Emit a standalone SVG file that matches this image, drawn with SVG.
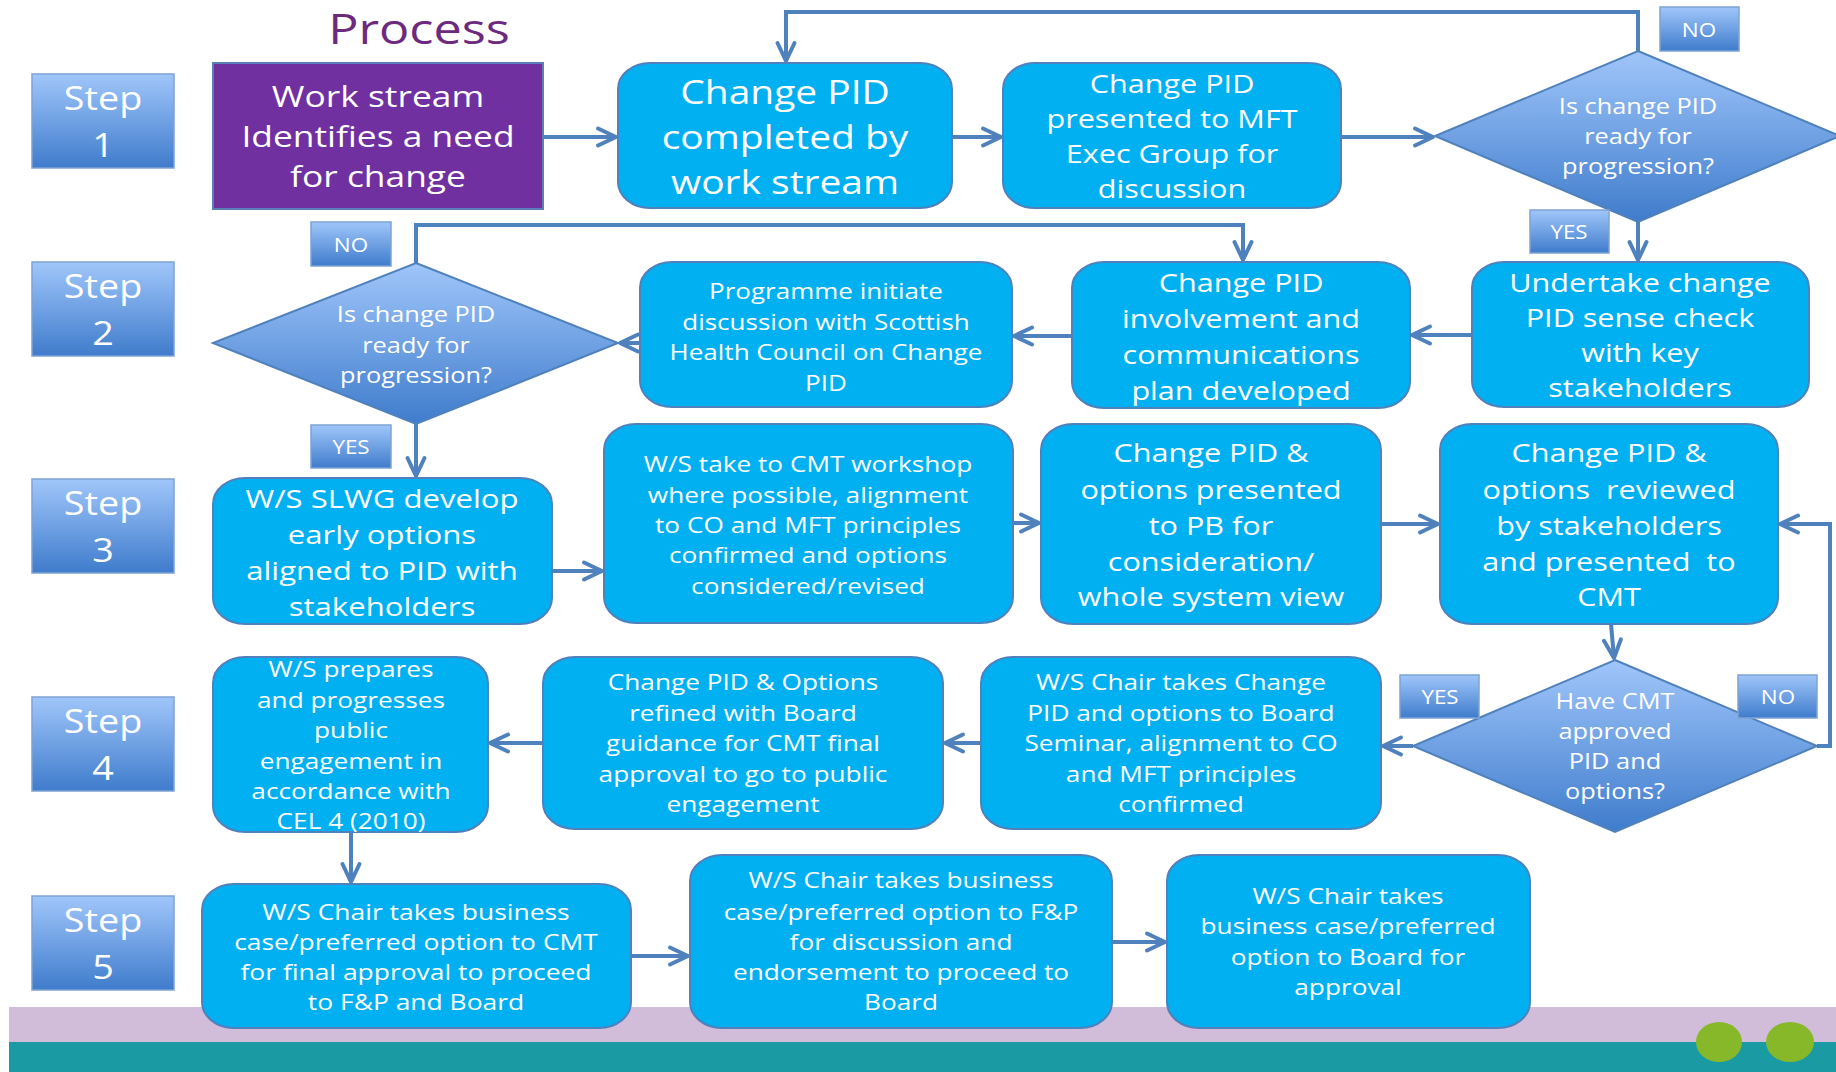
<svg xmlns="http://www.w3.org/2000/svg" width="1836" height="1072" viewBox="0 0 1836 1072">
  <defs>
    <linearGradient id="blueGrad" x1="0" y1="0" x2="0" y2="1">
      <stop offset="0" stop-color="#a0c6fa"/>
      <stop offset="1" stop-color="#3f7ccc"/>
    </linearGradient>
    <marker id="chev" viewBox="-2 -2 26 24" refX="20" refY="10" markerWidth="26" markerHeight="24" markerUnits="userSpaceOnUse" orient="auto">
      <path d="M2,1.5 L20,10 L2,18.5" fill="none" stroke="#4f81bd" stroke-width="4" stroke-linecap="round" stroke-linejoin="round"/>
    </marker>
    <style>
      .box { fill: #00b0f0; stroke: #4f81bd; stroke-width: 2; }
      .step { fill: url(#blueGrad); stroke: #7fa3d3; stroke-width: 1.5; }
      .dia { fill: url(#blueGrad); stroke: #4f81bd; stroke-width: 2; }
      .lbl { fill: url(#blueGrad); stroke: #7fa3d3; stroke-width: 1.5; }
      .conn path { fill: none; stroke: #4f81bd; stroke-width: 4; marker-end: url(#chev); }
      text { font-family: "Open Sans", "Liberation Sans", sans-serif; fill: #ffffff; text-anchor: middle; }
      .s33 { font-size: 33px; }
      .s29 { font-size: 29px; }
      .s26 { font-size: 25.5px; }
      .s22 { font-size: 21.5px; }
      .s21 { font-size: 20px; }
      .s32 { font-size: 32px; }
    </style>
  </defs>

  <rect width="1836" height="1072" fill="#ffffff"/>

  <!-- footer bands -->
  <rect x="9" y="1007" width="1827" height="36" fill="#d1bdd9"/>
  <rect x="9" y="1042" width="1827" height="30" fill="#1a9ba3"/>
  <ellipse cx="1719" cy="1042" rx="23" ry="20" fill="#86b82a"/>
  <ellipse cx="1790" cy="1042" rx="24" ry="20" fill="#86b82a"/>

  <!-- title -->
  <text x="0" y="44" transform="translate(419 0) scale(1.2 1)" style="font-size:42px;fill:#6c2a7f">Process</text>

  <!-- step markers -->
  <g id="step1"><rect class="step" x="32" y="74" width="142" height="94"/><text class="s32" transform="translate(103 0) scale(1.18 1)"><tspan x="0" y="110">Step</tspan><tspan x="0" y="157">1</tspan></text></g>
  <g id="step2"><rect class="step" x="32" y="262" width="142" height="94"/><text class="s32" transform="translate(103 0) scale(1.18 1)"><tspan x="0" y="298">Step</tspan><tspan x="0" y="345">2</tspan></text></g>
  <g id="step3"><rect class="step" x="32" y="479" width="142" height="94"/><text class="s32" transform="translate(103 0) scale(1.18 1)"><tspan x="0" y="515">Step</tspan><tspan x="0" y="562">3</tspan></text></g>
  <g id="step4"><rect class="step" x="32" y="697" width="142" height="94"/><text class="s32" transform="translate(103 0) scale(1.18 1)"><tspan x="0" y="733">Step</tspan><tspan x="0" y="780">4</tspan></text></g>
  <g id="step5"><rect class="step" x="32" y="896" width="142" height="94"/><text class="s32" transform="translate(103 0) scale(1.18 1)"><tspan x="0" y="932">Step</tspan><tspan x="0" y="979">5</tspan></text></g>

  <!-- connectors -->
  <g id="connectors" class="conn">
    <path d="M543,137 H616"/>
    <path d="M952,137 H1001"/>
    <path d="M1341,137 H1433"/>
    <path d="M1638,51 V12 H786 V61"/>
    <path d="M1638,222 V260"/>
    <path d="M1472,335 H1412"/>
    <path d="M1072,336 H1014"/>
    <path d="M640,343 H620"/>
    <path d="M416,263 V225 H1243 V260"/>
    <path d="M416,424 V476"/>
    <path d="M552,571 H602"/>
    <path d="M1013,523 H1039"/>
    <path d="M1381,524 H1438"/>
    <path d="M1611,624 L1614,658"/>
    <path d="M1817,746 H1830 V524 H1780"/>
    <path d="M1413,746 H1383"/>
    <path d="M981,743 H945"/>
    <path d="M543,743 H490"/>
    <path d="M351,832 V882"/>
    <path d="M631,956 H688"/>
    <path d="M1112,942 H1165"/>
  </g>

  <!-- row 1 -->
  <g id="n-workstream">
    <rect x="213" y="63" width="330" height="146" fill="#7030a0" stroke="#5b7fb8" stroke-width="2"/>
    <text class="s29" transform="translate(378 0) scale(1.22 1)"><tspan x="0" y="107">Work stream</tspan><tspan x="0" y="147">Identifies a need</tspan><tspan x="0" y="187">for change</tspan></text>
  </g>
  <g id="n-completed">
    <rect class="box" x="618" y="63" width="334" height="145" rx="32" ry="26"/>
    <text class="s33" transform="translate(785 0) scale(1.18 1)"><tspan x="0" y="104">Change PID</tspan><tspan x="0" y="149">completed by</tspan><tspan x="0" y="194">work stream</tspan></text>
  </g>
  <g id="n-presented">
    <rect class="box" x="1003" y="63" width="338" height="145" rx="32" ry="26"/>
    <text class="s26" transform="translate(1172 0) scale(1.2 1)"><tspan x="0" y="93">Change PID</tspan><tspan x="0" y="128">presented to MFT</tspan><tspan x="0" y="163">Exec Group for</tspan><tspan x="0" y="198">discussion</tspan></text>
  </g>
  <g id="n-decision1">
    <polygon class="dia" points="1638,51 1840,136 1638,222 1435,136"/>
    <text class="s22" transform="translate(1638 0) scale(1.18 1)"><tspan x="0" y="114">Is change PID</tspan><tspan x="0" y="144">ready for</tspan><tspan x="0" y="174">progression?</tspan></text>
  </g>
  <g id="lbl-no1"><rect class="lbl" x="1660" y="7" width="79" height="44"/><text class="s21" transform="translate(1699 0) scale(1.12 1)"><tspan x="0" y="37">NO</tspan></text></g>
  <g id="lbl-yes1"><rect class="lbl" x="1530" y="210" width="79" height="43"/><text class="s21" transform="translate(1569 0) scale(1.12 1)"><tspan x="0" y="239">YES</tspan></text></g>

  <!-- row 2 -->
  <g id="n-undertake">
    <rect class="box" x="1472" y="262" width="337" height="145" rx="32" ry="26"/>
    <text class="s26" transform="translate(1640 0) scale(1.2 1)"><tspan x="0" y="292">Undertake change</tspan><tspan x="0" y="327">PID sense check</tspan><tspan x="0" y="362">with key</tspan><tspan x="0" y="397">stakeholders</tspan></text>
  </g>
  <g id="n-involvement">
    <rect class="box" x="1072" y="262" width="338" height="146" rx="32" ry="26"/>
    <text class="s26" transform="translate(1241 0) scale(1.2 1)"><tspan x="0" y="292">Change PID</tspan><tspan x="0" y="328">involvement and</tspan><tspan x="0" y="364">communications</tspan><tspan x="0" y="400">plan developed</tspan></text>
  </g>
  <g id="n-programme">
    <rect class="box" x="640" y="262" width="372" height="145" rx="32" ry="26"/>
    <text class="s22" transform="translate(826 0) scale(1.21 1)"><tspan x="0" y="299">Programme initiate</tspan><tspan x="0" y="330">discussion with Scottish</tspan><tspan x="0" y="360">Health Council on Change</tspan><tspan x="0" y="391">PID</tspan></text>
  </g>
  <g id="n-decision2">
    <polygon class="dia" points="416,263 618,343 416,424 213,343"/>
    <text class="s22" transform="translate(416 0) scale(1.18 1)"><tspan x="0" y="322">Is change PID</tspan><tspan x="0" y="353">ready for</tspan><tspan x="0" y="383">progression?</tspan></text>
  </g>
  <g id="lbl-no2"><rect class="lbl" x="311" y="222" width="80" height="44"/><text class="s21" transform="translate(351 0) scale(1.12 1)"><tspan x="0" y="252">NO</tspan></text></g>
  <g id="lbl-yes2"><rect class="lbl" x="311" y="425" width="80" height="43"/><text class="s21" transform="translate(351 0) scale(1.12 1)"><tspan x="0" y="454">YES</tspan></text></g>

  <!-- row 3 -->
  <g id="n-slwg">
    <rect class="box" x="213" y="478" width="339" height="146" rx="32" ry="26"/>
    <text class="s26" transform="translate(382 0) scale(1.22 1)"><tspan x="0" y="508">W/S SLWG develop</tspan><tspan x="0" y="544">early options</tspan><tspan x="0" y="580">aligned to PID with</tspan><tspan x="0" y="616">stakeholders</tspan></text>
  </g>
  <g id="n-workshop">
    <rect class="box" x="604" y="424" width="409" height="199" rx="32" ry="26"/>
    <text class="s22" transform="translate(808 0) scale(1.22 1)"><tspan x="0" y="472">W/S take to CMT workshop</tspan><tspan x="0" y="503">where possible, alignment</tspan><tspan x="0" y="533">to CO and MFT principles</tspan><tspan x="0" y="563">confirmed and options</tspan><tspan x="0" y="594">considered/revised</tspan></text>
  </g>
  <g id="n-options-pb">
    <rect class="box" x="1041" y="424" width="340" height="200" rx="32" ry="26"/>
    <text class="s26" transform="translate(1211 0) scale(1.2 1)"><tspan x="0" y="462">Change PID &amp;</tspan><tspan x="0" y="499">options presented</tspan><tspan x="0" y="535">to PB for</tspan><tspan x="0" y="571">consideration/</tspan><tspan x="0" y="606">whole system view</tspan></text>
  </g>
  <g id="n-reviewed">
    <rect class="box" x="1440" y="424" width="338" height="200" rx="32" ry="26"/>
    <text class="s26" transform="translate(1609 0) scale(1.2 1)" xml:space="preserve"><tspan x="0" y="462">Change PID &amp;</tspan><tspan x="0" y="499">options  reviewed</tspan><tspan x="0" y="535">by stakeholders</tspan><tspan x="0" y="571">and presented  to</tspan><tspan x="0" y="606">CMT</tspan></text>
  </g>

  <!-- row 4 -->
  <g id="n-decision3">
    <polygon class="dia" points="1615,660 1817,746 1615,832 1413,746"/>
    <text class="s22" transform="translate(1615 0) scale(1.18 1)"><tspan x="0" y="709">Have CMT</tspan><tspan x="0" y="739">approved</tspan><tspan x="0" y="769">PID and</tspan><tspan x="0" y="799">options?</tspan></text>
  </g>
  <g id="lbl-yes3"><rect class="lbl" x="1400" y="675" width="79" height="43"/><text class="s21" transform="translate(1440 0) scale(1.12 1)"><tspan x="0" y="704">YES</tspan></text></g>
  <g id="lbl-no3"><rect class="lbl" x="1738" y="675" width="79" height="43"/><text class="s21" transform="translate(1778 0) scale(1.12 1)"><tspan x="0" y="704">NO</tspan></text></g>
  <g id="n-seminar">
    <rect class="box" x="981" y="657" width="400" height="172" rx="32" ry="26"/>
    <text class="s22" transform="translate(1181 0) scale(1.22 1)"><tspan x="0" y="690">W/S Chair takes Change</tspan><tspan x="0" y="721">PID and options to Board</tspan><tspan x="0" y="751">Seminar, alignment to CO</tspan><tspan x="0" y="782">and MFT principles</tspan><tspan x="0" y="812">confirmed</tspan></text>
  </g>
  <g id="n-refined">
    <rect class="box" x="543" y="657" width="400" height="172" rx="32" ry="26"/>
    <text class="s22" transform="translate(743 0) scale(1.22 1)"><tspan x="0" y="690">Change PID &amp; Options</tspan><tspan x="0" y="721">refined with Board</tspan><tspan x="0" y="751">guidance for CMT final</tspan><tspan x="0" y="782">approval to go to public</tspan><tspan x="0" y="812">engagement</tspan></text>
  </g>
  <g id="n-prepares">
    <rect class="box" x="213" y="657" width="275" height="175" rx="32" ry="26"/>
    <text class="s22" transform="translate(351 0) scale(1.22 1)"><tspan x="0" y="677">W/S prepares</tspan><tspan x="0" y="708">and progresses</tspan><tspan x="0" y="738">public</tspan><tspan x="0" y="769">engagement in</tspan><tspan x="0" y="799">accordance with</tspan><tspan x="0" y="829">CEL 4 (2010)</tspan></text>
  </g>

  <!-- row 5 -->
  <g id="n-chair-cmt">
    <rect class="box" x="202" y="884" width="429" height="144" rx="32" ry="26"/>
    <text class="s22" transform="translate(416 0) scale(1.23 1)"><tspan x="0" y="920">W/S Chair takes business</tspan><tspan x="0" y="950">case/preferred option to CMT</tspan><tspan x="0" y="980">for final approval to proceed</tspan><tspan x="0" y="1010">to F&amp;P and Board</tspan></text>
  </g>
  <g id="n-chair-fp">
    <rect class="box" x="690" y="855" width="422" height="173" rx="32" ry="26"/>
    <text class="s22" transform="translate(901 0) scale(1.22 1)"><tspan x="0" y="888">W/S Chair takes business</tspan><tspan x="0" y="920">case/preferred option to F&amp;P</tspan><tspan x="0" y="950">for discussion and</tspan><tspan x="0" y="980">endorsement to proceed to</tspan><tspan x="0" y="1010">Board</tspan></text>
  </g>
  <g id="n-chair-board">
    <rect class="box" x="1167" y="855" width="363" height="173" rx="32" ry="26"/>
    <text class="s22" transform="translate(1348 0) scale(1.22 1)"><tspan x="0" y="904">W/S Chair takes</tspan><tspan x="0" y="934">business case/preferred</tspan><tspan x="0" y="965">option to Board for</tspan><tspan x="0" y="995">approval</tspan></text>
  </g>
</svg>
